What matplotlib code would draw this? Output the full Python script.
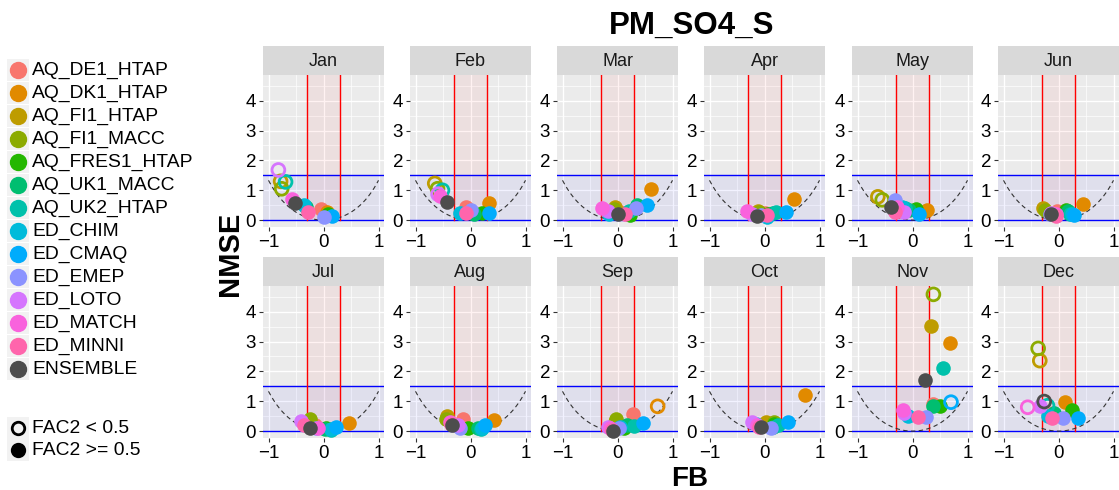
# Monthly FB vs NMSE scatter for PM_SO4_S, one panel per month

import numpy as np
import matplotlib.pyplot as plt

plt.rcParams['font.family'] = ['Liberation Sans', 'DejaVu Sans']

models = ['AQ_DE1_HTAP', 'AQ_DK1_HTAP', 'AQ_FI1_HTAP', 'AQ_FI1_MACC', 'AQ_FRES1_HTAP',
          'AQ_UK1_MACC', 'AQ_UK2_HTAP', 'ED_CHIM', 'ED_CMAQ', 'ED_EMEP', 'ED_LOTO',
          'ED_MATCH', 'ED_MINNI', 'ENSEMBLE']
model_colors = ['#F8766D', '#E18A00', '#BE9C00', '#8CAB00', '#24B700', '#00BE70', '#00C1AB',
                '#00BBDA', '#00ACFC', '#8B93FF', '#D575FE', '#F962DD', '#FF65AC', '#4D4D4D']
months = ['Jan', 'Feb', 'Mar', 'Apr', 'May', 'Jun', 'Jul', 'Aug', 'Sep', 'Oct', 'Nov', 'Dec']

# fractional bias, one row per month, columns in the order of `models`
fb = [
    [-0.04, 0.06, -0.78, -0.76, 0.08, -0.31, -0.69, -0.36, 0.16, 0.00, -0.82, -0.57, -0.29, -0.52],
    [-0.09, 0.33, -0.65, -0.60, 0.20, 0.06, -0.51, -0.20, 0.33, 0.00, -0.59, -0.55, -0.08, -0.42],
    [0.05, 0.61, -0.05, -0.07, 0.22, 0.35, 0.20, -0.15, 0.53, 0.33, -0.18, -0.28, 0.13, 0.00],
    [0.00, 0.53, -0.12, -0.10, 0.07, 0.15, 0.20, 0.04, 0.39, -0.06, -0.22, -0.31, 0.04, -0.13],
    [-0.25, 0.26, -0.63, -0.55, 0.07, -0.07, -0.13, -0.20, 0.11, -0.31, -0.16, -0.28, -0.31, -0.40],
    [-0.02, 0.44, -0.28, -0.25, 0.14, 0.17, 0.20, 0.25, 0.29, -0.16, -0.13, -0.05, -0.05, -0.13],
    [-0.16, 0.46, -0.28, -0.25, 0.05, 0.02, 0.14, 0.14, 0.23, -0.13, -0.41, -0.10, -0.36, -0.25],
    [-0.14, 0.42, -0.42, -0.45, -0.05, 0.13, 0.19, 0.20, 0.26, -0.20, -0.22, -0.38, -0.36, -0.34],
    [0.28, 0.73, -0.04, -0.02, 0.11, 0.17, 0.30, 0.05, 0.46, 0.02, -0.17, -0.13, -0.10, -0.08],
    [0.06, 0.74, 0.03, 0.18, 0.18, 0.15, 0.24, -0.16, 0.42, 0.12, -0.23, -0.13, -0.10, -0.07],
    [0.38, 0.68, 0.34, 0.38, 0.50, 0.38, 0.55, -0.08, 0.70, 0.25, -0.15, -0.17, 0.10, 0.22],
    [-0.10, 0.12, -0.34, -0.37, 0.24, -0.08, -0.20, -0.20, 0.35, 0.09, -0.33, -0.56, -0.12, -0.26],
]

# normalised mean square error, same layout
nmse = [
    [0.37, 0.28, 1.30, 1.05, 0.22, 0.45, 1.28, 0.50, 0.13, 0.09, 1.68, 0.72, 0.27, 0.57],
    [0.45, 0.56, 1.23, 1.05, 0.25, 0.22, 1.00, 0.25, 0.25, 0.35, 0.87, 0.80, 0.25, 0.62],
    [0.28, 1.03, 0.45, 0.38, 0.17, 0.50, 0.30, 0.20, 0.50, 0.39, 0.30, 0.39, 0.22, 0.20],
    [0.25, 0.72, 0.30, 0.27, 0.20, 0.25, 0.28, 0.10, 0.26, 0.17, 0.22, 0.31, 0.17, 0.13],
    [0.30, 0.33, 0.78, 0.68, 0.37, 0.34, 0.40, 0.45, 0.22, 0.67, 0.28, 0.45, 0.28, 0.45],
    [0.30, 0.53, 0.39, 0.33, 0.35, 0.30, 0.22, 0.22, 0.17, 0.22, 0.25, 0.22, 0.15, 0.19],
    [0.20, 0.27, 0.30, 0.39, 0.10, 0.06, 0.04, 0.08, 0.14, 0.10, 0.34, 0.10, 0.20, 0.09],
    [0.42, 0.37, 0.51, 0.42, 0.09, 0.10, 0.07, 0.10, 0.20, 0.12, 0.20, 0.30, 0.25, 0.20],
    [0.56, 0.83, 0.30, 0.40, 0.10, 0.20, 0.17, 0.13, 0.28, 0.10, 0.13, 0.10, 0.05, 0.02],
    [0.25, 1.20, 0.30, 0.30, 0.25, 0.14, 0.20, 0.25, 0.31, 0.10, 0.31, 0.20, 0.15, 0.14],
    [0.90, 2.94, 3.52, 4.58, 0.83, 0.83, 2.11, 0.50, 0.97, 0.47, 0.60, 0.71, 0.48, 1.71],
    [0.60, 0.98, 2.36, 2.77, 0.70, 0.60, 0.85, 0.50, 0.45, 0.45, 0.85, 0.80, 0.45, 0.99],
]

# 1 where FAC2 < 0.5 (drawn as open circle)
fac2_low = [
    [0, 0, 1, 1, 0, 0, 1, 0, 0, 0, 1, 0, 0, 0],
    [0, 0, 1, 1, 0, 0, 1, 0, 0, 0, 1, 0, 0, 0],
    [0, 0, 0, 0, 0, 0, 0, 0, 0, 0, 0, 0, 0, 0],
    [0, 0, 0, 0, 0, 0, 0, 0, 0, 0, 0, 0, 0, 0],
    [0, 0, 1, 1, 0, 0, 0, 0, 0, 0, 0, 0, 0, 0],
    [0, 0, 0, 0, 0, 0, 0, 0, 0, 0, 0, 0, 0, 0],
    [0, 0, 0, 0, 0, 0, 0, 0, 0, 0, 0, 0, 0, 0],
    [0, 0, 0, 0, 0, 0, 0, 0, 0, 0, 0, 0, 0, 0],
    [0, 1, 0, 0, 0, 0, 0, 0, 0, 0, 0, 0, 0, 0],
    [0, 0, 0, 0, 0, 0, 0, 0, 0, 0, 0, 0, 0, 0],
    [0, 0, 0, 1, 0, 0, 0, 0, 1, 0, 0, 0, 0, 0],
    [0, 0, 1, 1, 0, 0, 1, 0, 0, 0, 0, 1, 0, 1],
]

W, H = 1119, 490
fig = plt.figure(figsize=(W / 100, H / 100), dpi=100)


def px_axes(left, top, w, h, **kw):
    return fig.add_axes([left / W, 1 - (top + h) / H, w / W, h / H], **kw)


# legend drawn by hand on a transparent full-figure axes
leg = px_axes(0, 0, W, H)
leg.set_xlim(0, W)
leg.set_ylim(H, 0)
leg.axis('off')
for i, (name, col) in enumerate(zip(models, model_colors)):
    yc = 70 + i * 23
    leg.add_patch(plt.Rectangle((7, yc - 11), 22, 22, color='#F2F2F2', lw=0))
    leg.plot(18, yc, 'o', ms=11.5, color=col, mec=col)
    leg.text(32, yc, name, va='center', ha='left', fontsize=13.9)
for yc, label, filled in [(428, 'FAC2 < 0.5', False), (450, 'FAC2 >= 0.5', True)]:
    leg.add_patch(plt.Rectangle((7, yc - 11), 22, 22, color='#F2F2F2', lw=0))
    leg.plot(18, yc, 'o', ms=9, mfc='black' if filled else 'none', mec='black', mew=2)
    leg.text(32, yc, label, va='center', ha='left', fontsize=13.9)

col_left = [263, 410, 557, 704, 852, 998]
row_top = [46, 257]
curve_x = np.linspace(-1, 1, 200)
curve_y = 4 * curve_x ** 2 / (4 - curve_x ** 2)

for m, month in enumerate(months):
    left = col_left[m % 6]
    top = row_top[m // 6]

    strip = px_axes(left, top, 121, 29)
    strip.set_facecolor('#D9D9D9')
    strip.set_xticks([])
    strip.set_yticks([])
    for s in strip.spines.values():
        s.set_visible(False)
    strip.text(0.5, 0.45, month, ha='center', va='center', fontsize=13, color='#1A1A1A',
               transform=strip.transAxes)

    ax = px_axes(left, top + 29, 121, 152)
    ax.set_facecolor('#EBEBEB')
    for s in ax.spines.values():
        s.set_visible(False)
    ax.set_xlim(-1.1, 1.1)
    ax.set_ylim(-0.23, 4.86)
    ax.set_xticks([-1, 0, 1])
    ax.set_yticks([0, 1, 2, 3, 4])
    ax.set_xticks([-0.5, 0.5], minor=True)
    ax.set_yticks([0.5, 1.5, 2.5, 3.5, 4.5], minor=True)
    ax.set_axisbelow(True)
    ax.grid(which='major', color='white', lw=1.0)
    ax.grid(which='minor', color='white', lw=0.5)
    ax.tick_params(which='major', length=3, width=0.8, color='#333333', labelsize=13.5,
                   labelcolor='black', pad=2)
    ax.tick_params(which='minor', length=0)

    # acceptance zones: NMSE <= 1.5 and |FB| <= 0.3
    ax.axhspan(0, 1.5, color='blue', alpha=0.05, lw=0)
    ax.axhline(0, color='blue', lw=1)
    ax.axhline(1.5, color='blue', lw=1)
    ax.fill_between([-0.3, 0.3], 0, 4.86, color='red', alpha=0.05, lw=0)
    ax.plot([-0.3, -0.3], [0, 4.86], color='red', lw=1)
    ax.plot([0.3, 0.3], [0, 4.86], color='red', lw=1)
    ax.plot(curve_x, curve_y, color='#333333', lw=0.8, ls=(0, (4, 3)))

    for k in range(len(models)):
        x, y, col = fb[m][k], nmse[m][k], model_colors[k]
        if fac2_low[m][k]:
            ax.scatter(x, y, s=85, facecolors='none', edgecolors=col, linewidths=2.0, zorder=3)
        else:
            ax.scatter(x, y, s=110, color=col, lw=0, zorder=3)

fig.text(692 / W, 1 - 26 / H, 'PM_SO4_S', ha='center', va='center', fontsize=22.5,
         fontweight='bold')
fig.text(230 / W, 1 - 254 / H, 'NMSE', ha='center', va='center', rotation=90,
         fontsize=21, fontweight='bold')
fig.text(690 / W, 1 - 479 / H, 'FB', ha='center', va='center', fontsize=20,
         fontweight='bold')

fig.savefig('out.png', dpi=100)
